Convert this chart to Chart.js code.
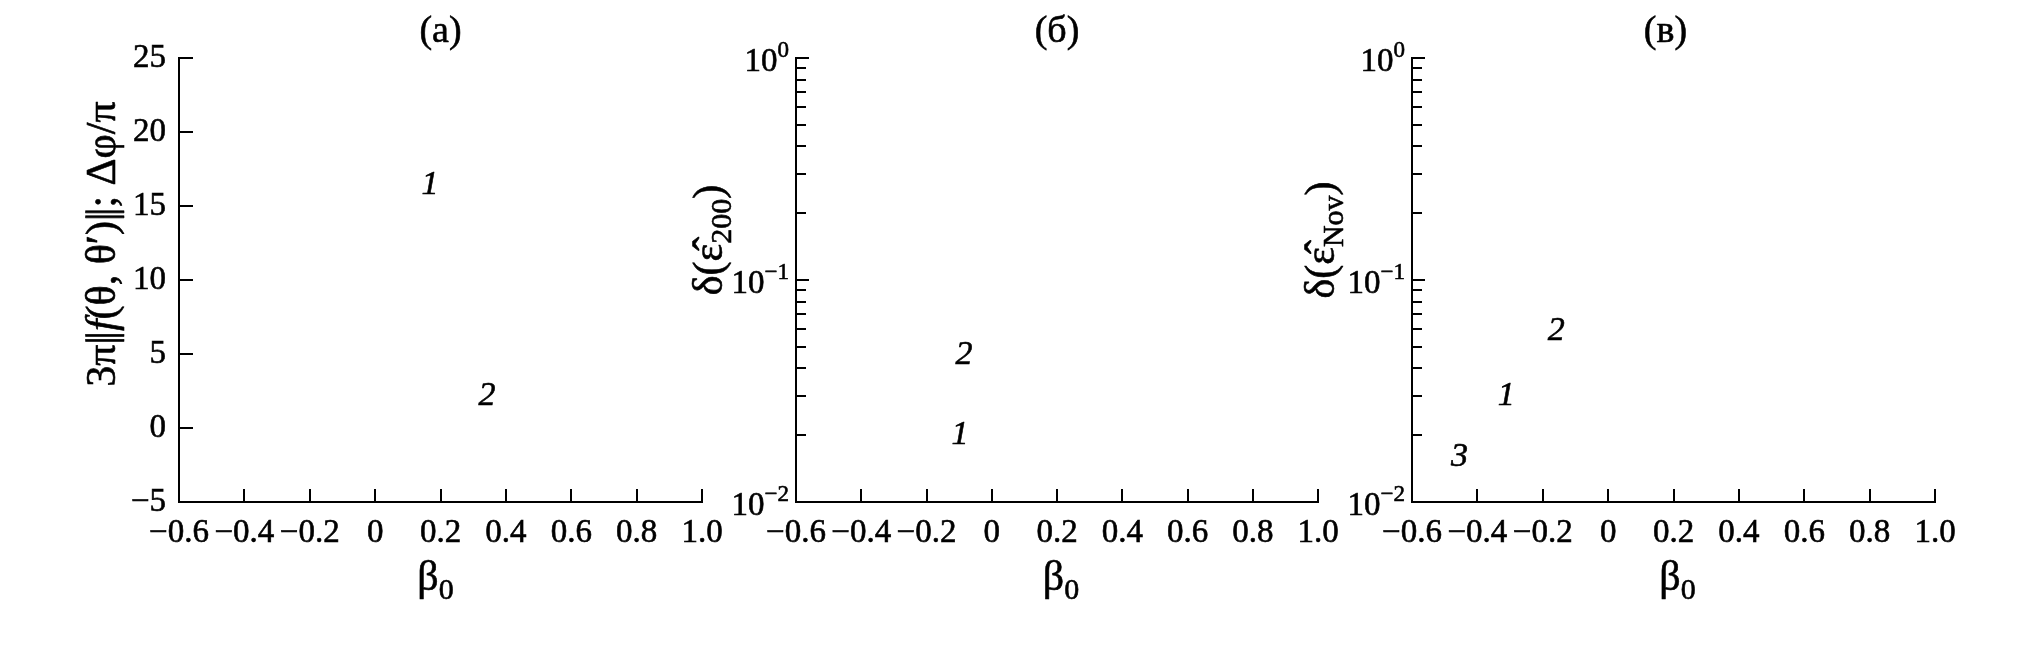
<!DOCTYPE html>
<html><head><meta charset="utf-8">
<script src="https://cdn.jsdelivr.net/npm/chart.js@4"></script>
<style>
html,body{margin:0;padding:0;background:#fff;}
#wrap{position:relative;width:2038px;height:662px;overflow:hidden;background:#fff;}
canvas{position:absolute;top:0;}
</style></head><body>
<div id="wrap">
<canvas id="ca" width="760" height="662" style="left:0px"></canvas>
<canvas id="cb" width="760" height="662" style="left:620px"></canvas>
<canvas id="cc" width="798" height="662" style="left:1240px"></canvas>
</div>
<script>
// ---- data ----
const xTickValues = [-0.6, -0.4, -0.2, 0, 0.2, 0.4, 0.6, 0.8, 1.0];
const xTickLabels = ['\u22120.6', '\u22120.4', '\u22120.2', '0', '0.2', '0.4', '0.6', '0.8', '1.0'];
const yTickValuesA = [-5, 0, 5, 10, 15, 20, 25];
const yTickLabelsA = ['\u22125', '0', '5', '10', '15', '20', '25'];
const logMajorValues = [0.01, 0.1, 1];
const logMajorExponents = ['\u22122', '\u22121', '0'];
const logMinorValues = [0.02, 0.03, 0.04, 0.05, 0.06, 0.07, 0.08, 0.09, 0.2, 0.3, 0.4, 0.5, 0.6, 0.7, 0.8, 0.9];
const panelTitles = ['(\u0430)', '(\u0431)', '(\u0432)'];
const curveNamesA = ['1', '2'];
const curveXA = [0.168, 0.342];
const curveYA = [16.6, 2.35];
const curveNamesB = ['2', '1'];
const curveXB = [-0.085, -0.097];
const curveYB = [0.0473, 0.0206];
const curveNamesC = ['2', '1', '3'];
const curveXC = [-0.159, -0.312, -0.455];
const curveYC = [0.0608, 0.0309, 0.0164];

// ---- style ----
const SERIF = '"Liberation Serif","Times New Roman",serif';
const INK = '#000';
const STROKE = 0.6;
Chart.defaults.font.family = SERIF;
Chart.defaults.color = INK;

function drawRich(ctx, segs, x, y, align) {
  let total = 0;
  segs.forEach(s => {
    ctx.font = s.font;
    s.w = (s.adv !== undefined) ? s.adv : ctx.measureText(s.text).width;
    total += s.w;
  });
  let cx = align === 'center' ? x - total / 2 : (align === 'right' ? x - total : x);
  ctx.textAlign = 'left'; ctx.textBaseline = 'alphabetic';
  ctx.lineWidth = STROKE; ctx.strokeStyle = INK; ctx.lineJoin = 'round';
  segs.forEach(s => {
    ctx.font = s.font;
    ctx.fillText(s.text, cx, y + (s.dy || 0));
    ctx.strokeText(s.text, cx, y + (s.dy || 0));
    cx += s.w;
  });
}

function drawDecor(chart, cfg) {
  const ctx = chart.ctx, ca = chart.chartArea, x = chart.scales.x, y = chart.scales.y;
  ctx.save();
  ctx.strokeStyle = INK; ctx.fillStyle = INK; ctx.lineWidth = 2;
  // inward tick marks
  x.ticks.forEach(t => {
    const px = Math.round(x.getPixelForValue(t.value));
    ctx.beginPath(); ctx.moveTo(px, ca.bottom); ctx.lineTo(px, ca.bottom - 13); ctx.stroke();
  });
  y.ticks.forEach(t => {
    const py = Math.round(y.getPixelForValue(t.value));
    const len = cfg.log ? (t.major ? 13 : 10) : 14;
    ctx.beginPath(); ctx.moveTo(ca.left, py); ctx.lineTo(ca.left + len, py); ctx.stroke();
  });
  // log tick labels 10^n
  if (cfg.log) {
    logMajorValues.forEach((v, i) => {
      const py = y.getPixelForValue(v);
      const base = py + 13;
      ctx.font = '33px ' + SERIF; const w10 = ctx.measureText('10').width;
      ctx.font = '23px ' + SERIF; const we = ctx.measureText(logMajorExponents[i]).width;
      const right = ca.left - 7;
      drawRich(ctx, [
        {text: '10', font: '33px ' + SERIF},
        {text: logMajorExponents[i], font: '23px ' + SERIF, dy: -14}
      ], right - w10 - we, base, 'left');
    });
  }
  // panel title
  drawRich(ctx, [{text: cfg.title, font: '38px ' + SERIF}], (ca.left + ca.right) / 2 + cfg.titleDx, 42, 'center');
  // x title beta_0
  drawRich(ctx, [
    {text: '\u03b2', font: '42px ' + SERIF},
    {text: '0', font: '30px ' + SERIF, dy: 9}
  ], (ca.left + ca.right) / 2 + cfg.xTitleDx, 590, 'center');
  // y title rotated
  ctx.save();
  ctx.translate(cfg.yTitleX, cfg.yTitleY);
  ctx.rotate(-Math.PI / 2);
  drawRich(ctx, cfg.yTitle, 0, 0, 'center');
  ctx.restore();
  // curve labels
  chart.data.datasets[0].data.forEach((pt, i) => {
    const px = x.getPixelForValue(pt.x), py = y.getPixelForValue(pt.y);
    drawRich(ctx, [{text: cfg.names[i], font: 'italic 34px ' + SERIF}], px, py + 12, 'center');
  });
  ctx.restore();
}

function makeChart(id, cfg) {
  const yScale = cfg.log ? {
    type: 'logarithmic', min: 0.01, max: 1, position: 'left',
    afterBuildTicks: s => {
      s.ticks = logMajorValues.concat(logMinorValues).sort((a, b) => a - b)
        .map(v => ({value: v, major: logMajorValues.includes(v)}));
    },
    afterFit: s => { s.width = cfg.yWidth; },
    grid: {display: false, drawTicks: false, tickLength: 0},
    border: {display: true, color: INK, width: 2},
    ticks: {autoSkip: false, callback: () => ''}
  } : {
    type: 'linear', min: -5, max: 25, position: 'left',
    afterBuildTicks: s => { s.ticks = yTickValuesA.map(v => ({value: v})); },
    afterFit: s => { s.width = cfg.yWidth; },
    grid: {display: false, drawTicks: false, tickLength: 0},
    border: {display: true, color: INK, width: 2},
    ticks: {autoSkip: false, padding: 13, color: INK, font: {family: SERIF, size: 33},
      textStrokeColor: INK, textStrokeWidth: STROKE,
      callback: (v, i) => yTickLabelsA[i]}
  };
  return new Chart(document.getElementById(id), {
    type: 'scatter',
    data: {datasets: [{
      data: cfg.names.map((n, i) => ({x: cfg.xs[i], y: cfg.ys[i]})),
      pointRadius: 0, showLine: false
    }]},
    options: {
      responsive: false, animation: false, events: [],
      layout: {padding: {left: 0, top: 58, right: cfg.padRight, bottom: 60}},
      plugins: {legend: {display: false}, tooltip: {enabled: false}},
      scales: {
        x: {
          type: 'linear', min: -0.6, max: 1.0, position: 'bottom',
          afterBuildTicks: s => { s.ticks = xTickValues.map(v => ({value: v})); },
          afterFit: s => { s.height = 100; },
          grid: {display: false, drawTicks: false, tickLength: 0},
          border: {display: true, color: INK, width: 2},
          ticks: {autoSkip: false, maxRotation: 0, minRotation: 0, padding: 12, color: INK,
            font: {family: SERIF, size: 33}, textStrokeColor: INK, textStrokeWidth: STROKE,
            callback: (v, i) => xTickLabels[i]}
        },
        y: yScale
      }
    },
    plugins: [{id: 'decor', afterDraw: chart => drawDecor(chart, cfg)}]
  });
}

const F42 = '42px ' + SERIF, F42I = 'italic 42px ' + SERIF, F30 = '30px ' + SERIF;

makeChart('ca', {
  log: false, yWidth: 179, padRight: 58,
  names: curveNamesA, xs: curveXA, ys: curveYA,
  title: panelTitles[0], titleDx: 0, xTitleDx: -5,
  yTitleX: 115, yTitleY: 244,
  yTitle: [
    {text: '3\u03c0', font: F42},
    {text: '|', font: F42, adv: 5},
    {text: '|', font: F42},
    {text: 'f', font: F42I},
    {text: '(\u03b8, \u03b8\u2032)', font: F42},
    {text: '|', font: F42, adv: 5},
    {text: '|', font: F42},
    {text: '; \u0394\u03c6/\u03c0', font: F42}
  ]
});
makeChart('cb', {
  log: true, yWidth: 176, padRight: 62,
  names: curveNamesB, xs: curveXB, ys: curveYB,
  title: panelTitles[1], titleDx: 0, xTitleDx: 4,
  yTitleX: 722 - 620, yTitleY: 240,
  yTitle: [
    {text: '\u03b4(\u03b5\u0302', font: F42},
    {text: '200', font: F30, dy: 9},
    {text: ')', font: F42}
  ]
});
makeChart('cc', {
  log: true, yWidth: 172, padRight: 103,
  names: curveNamesC, xs: curveXC, ys: curveYC,
  title: panelTitles[2], titleDx: -8, xTitleDx: 4,
  yTitleX: 1334 - 1240, yTitleY: 240,
  yTitle: [
    {text: '\u03b4(\u03b5\u0302', font: F42},
    {text: 'Nov', font: F30, dy: 9},
    {text: ')', font: F42}
  ]
});
</script>
</body></html>
